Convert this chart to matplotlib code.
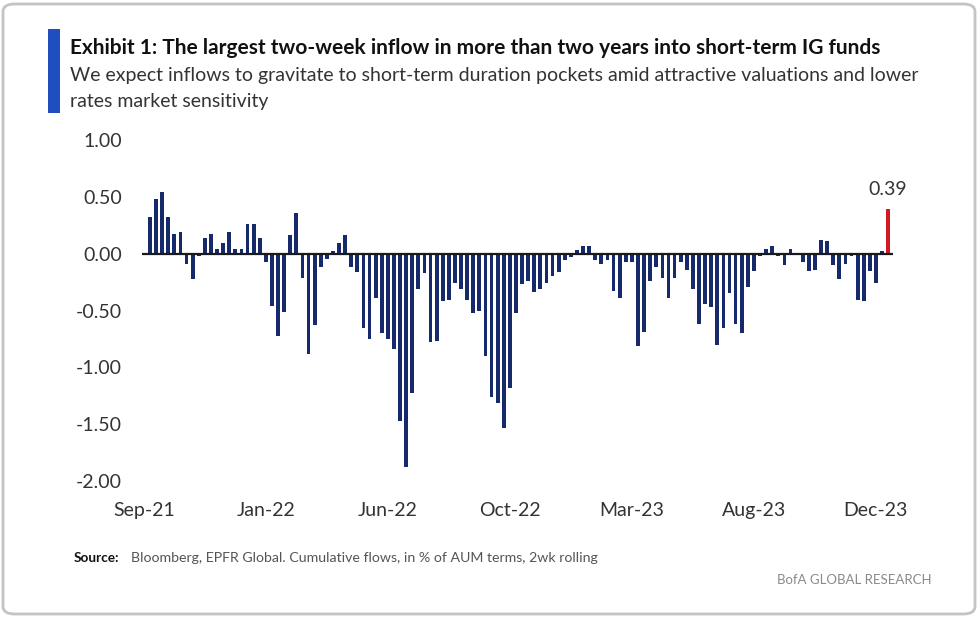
import matplotlib
matplotlib.use("Agg")
import matplotlib.pyplot as plt
from matplotlib.patches import FancyBboxPatch, Rectangle
import numpy as np

# ---- data ----
flows = [
    0.32, 0.48, 0.54, 0.32, 0.17, 0.19, -0.09, -0.22, -0.02, 0.14,
    0.17, 0.04, 0.09, 0.19, 0.04, 0.04, 0.26, 0.26, 0.14, -0.07,
    -0.46, -0.72, -0.51, 0.16, 0.36, -0.21, -0.88, -0.63, -0.12, -0.05,
    0.02, 0.09, 0.16, -0.12, -0.16, -0.65, -0.75, -0.39, -0.70, -0.75,
    -0.84, -1.47, -1.88, -1.23, -0.31, -0.17, -0.78, -0.77, -0.42, -0.41,
    -0.26, -0.31, -0.41, -0.52, -0.50, -0.90, -1.26, -1.31, -1.53, -1.18,
    -0.52, -0.27, -0.24, -0.34, -0.31, -0.26, -0.20, -0.16, -0.06, -0.03,
    0.03, 0.07, 0.07, -0.06, -0.09, -0.06, -0.33, -0.39, -0.07, -0.07,
    -0.81, -0.69, -0.24, -0.12, -0.21, -0.39, -0.21, -0.07, -0.14, -0.31,
    -0.62, -0.44, -0.47, -0.80, -0.65, -0.35, -0.62, -0.70, -0.29, -0.15,
    -0.02, 0.04, 0.07, -0.02, -0.10, 0.04, 0.01, -0.07, -0.15, -0.14,
    0.12, 0.11, -0.10, -0.22, -0.09, -0.02, -0.41, -0.42, -0.15, -0.26,
    0.02, 0.39,
]
tick_labels = ["Sep-21", "Jan-22", "Jun-22", "Oct-22", "Mar-23", "Aug-23", "Dec-23"]
tick_index = [0, 20, 40, 60, 80, 100, 120]
y_ticks = [1.0, 0.5, 0.0, -0.5, -1.0, -1.5, -2.0]

title = "Exhibit 1: The largest two-week inflow in more than two years into short-term IG funds"
subtitle1 = "We expect inflows to gravitate to short-term duration pockets amid attractive valuations and lower"
subtitle2 = "rates market sensitivity"
source_lbl = "Source:"
source_txt = "Bloomberg, EPFR Global. Cumulative flows, in % of AUM terms, 2wk rolling"
brand = "BofA GLOBAL RESEARCH"

NAVY = "#15296b"
RED = "#d11a22"
FONT = "Lato"

W, H = 980, 618
fig = plt.figure(figsize=(W / 100, H / 100), dpi=100)
fig.patch.set_facecolor("white")

def px(x, y):
    return x / W, 1 - y / H

# rounded frame
frame = FancyBboxPatch(px(3, 614), 972 / W, 610 / H,
                       boxstyle="round,pad=0,rounding_size=0.012",
                       transform=fig.transFigure, facecolor="none",
                       edgecolor="#c4c4c4", linewidth=2.0, zorder=5)
fig.patches.append(frame)

# blue accent bar
fig.patches.append(Rectangle(px(48, 113), 12 / W, 84 / H, transform=fig.transFigure,
                             facecolor="#1f4fbe", edgecolor="none", zorder=5))

# axes
left, right, top, bottom = 142, 893, 140, 481
ax = fig.add_axes([left / W, 1 - bottom / H, (right - left) / W, (bottom - top) / H])
x = np.arange(len(flows))
colors = [NAVY] * (len(flows) - 1) + [RED]
ax.bar(x, flows, width=0.62, color=colors, zorder=2)
ax.axhline(0, color="#1a1a1a", linewidth=1.6, zorder=3)
ax.set_xlim(-1.3, len(flows) - 0.2)
ax.set_ylim(-2.0, 1.0)
for s in ax.spines.values():
    s.set_visible(False)
ax.set_yticks(y_ticks)
ax.set_yticklabels([f"{v:.2f}" for v in y_ticks], fontsize=14, color="#333333", family=FONT)
ax.set_xticks([i - 1.0 for i in tick_index])
ax.set_xticklabels(tick_labels, fontsize=14, color="#333333", family=FONT)
ax.tick_params(axis="both", length=0)
ax.tick_params(axis="y", pad=14.5)
ax.tick_params(axis="x", pad=15)
ax.patch.set_alpha(0)

# value annotation
ax.text(x[-1], flows[-1] + 0.1, f"{flows[-1]:.2f}", ha="center", va="bottom",
        fontsize=14, color="#333333", family=FONT)

# header / footer texts
renderer = fig.canvas.get_renderer()

def fit_text(xp, yp, s, target_w, size, **kw):
    t = fig.text(*px(xp, yp), s, fontsize=size, **kw)
    w = t.get_window_extent(renderer).width
    t.set_fontsize(size * target_w / w)
    return t

fit_text(70, 48, title, 812, 18, family=FONT, weight="bold", color="#111111", va="center")
t1 = fit_text(70, 75, subtitle1, 854, 16, family=FONT, color="#333333", va="center")
fig.text(*px(70, 101), subtitle2, fontsize=t1.get_fontsize(), family=FONT, color="#333333", va="center")

fit_text(74, 558, source_lbl, 46, 10.5, family=FONT, weight="bold", color="#111111", va="center")
fit_text(131, 558, source_txt, 471, 10.5, family=FONT, color="#555555", va="center")
fit_text(777, 580, brand, 156, 10.5, family=FONT, color="#8a8a8a", va="center")

fig.savefig("out.png", dpi=100, facecolor="white")
